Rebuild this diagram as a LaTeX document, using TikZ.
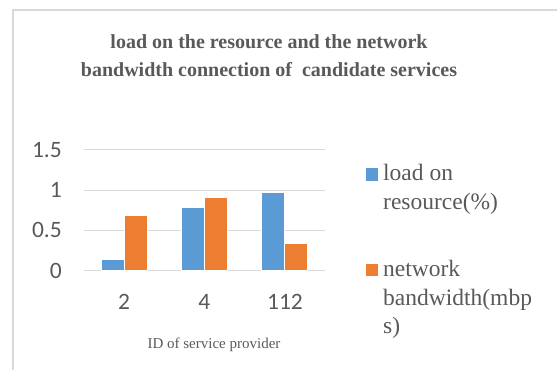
\documentclass[tikz,border=0pt]{standalone}
\usepackage{fontspec}
\setmainfont{Liberation Serif}
\newfontfamily\axisfont{Carlito}
\definecolor{seriesA}{HTML}{5B9BD5}
\definecolor{seriesB}{HTML}{ED7D31}
\definecolor{gridgray}{HTML}{D9D9D9}
\definecolor{textgray}{HTML}{595959}
\begin{document}
\begin{tikzpicture}[x=1pt,y=-1pt,
  frame/.style={draw=gridgray,line width=1.2pt},
  gridline/.style={draw=gridgray,line width=1pt},
  barA/.style={fill=seriesA,draw=white,line width=0.4pt},
  barB/.style={fill=seriesB,draw=white,line width=0.4pt},
  ticklabel/.style={text=textgray,font=\axisfont\fontsize{23.5}{26}\selectfont,inner sep=0pt},
  legtext/.style={text=textgray,font=\fontsize{23.5}{28.5}\selectfont,inner sep=0pt,align=left,anchor=north west},
  titletext/.style={text=textgray,font=\bfseries\fontsize{20}{28}\selectfont,align=center,inner sep=0pt}]
\useasboundingbox (0,0) rectangle (557,370);
% chart area frame (open at right and bottom)
\draw[frame] (13,370) -- (13,10) -- (557,10);
% title
\node[titletext] (title) at (269,56) {load on the resource and the network\\bandwidth connection of \ candidate services};
% value axis gridlines and labels
\foreach \v/\lab/\n in {0/0/y0,0.5/0.5/y1,1/1/y2,1.5/1.5/y3}{
  \coordinate (gl\n) at (84,270.5-80.4*\v);
  \coordinate (gr\n) at (325,270.5-80.4*\v);
  \draw[gridline] (gl\n) -- (gr\n);
  \node[ticklabel,anchor=east] (lab\n) at (62,270.5-80.4*\v) {\lab};
}
% bars: category centres at 124, 204.3, 284.6
\foreach \c/\a/\b/\n in {124/0.14/0.69/c1, 204.3/0.79/0.91/c2, 284.6/0.976/0.34/c3}{
  \path[barA] (\c-23,270.5) rectangle (\c,270.5-80.4*\a);
  \path[barB] (\c,270.5) rectangle (\c+23,270.5-80.4*\b);
}
% category labels
\node[ticklabel] (cat1) at (124,302) {2};
\node[ticklabel] (cat2) at (204.3,302) {4};
\node[ticklabel] (cat3) at (285,302) {112};
% axis title
\node[text=textgray,font=\fontsize{15}{18}\selectfont,inner sep=0pt] (xtitle) at (214,345) {ID of service provider};
% legend
\fill[seriesA] (366,168) rectangle (378,181);
\node[legtext] (legA) at (383,164) {load on\\resource(\%)};
\fill[seriesB] (366,264) rectangle (378,276);
\node[legtext] (legB) at (383,260) {network\\bandwidth(mbp\\s)};
\end{tikzpicture}
\end{document}
